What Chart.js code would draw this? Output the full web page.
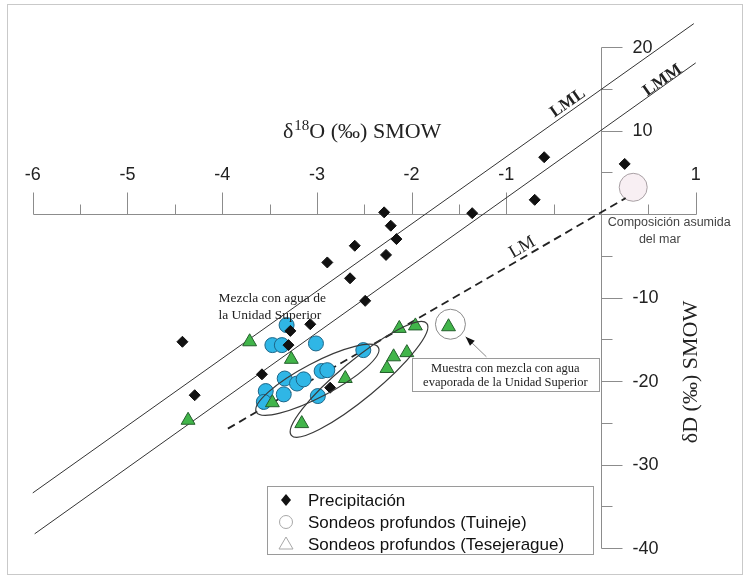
<!DOCTYPE html>
<html>
<head>
<meta charset="utf-8">
<script src="https://cdn.jsdelivr.net/npm/chart.js@4.4.1/dist/chart.umd.min.js"></script>
<style>
  body { margin: 0; background: #fff; }
</style>
</head>
<body>
<canvas id="myChart" width="748" height="578"></canvas>
<script>
// values: x = d18O, y = dD (per mil SMOW)
const precipO18 = [-0.60, 0.25, -0.70, -1.36, -2.29, -2.22, -2.16, -2.27, -2.60, -2.89, -2.65,
                   -4.42, -4.29, -3.58, -2.86, -2.49, -3.07, -3.28, -3.30];
const precipD   = [6.8, 6.0, 1.7, 0.1, 0.2, -1.4, -3.0, -4.9, -3.8, -5.8, -7.7,
                   -15.3, -21.7, -19.2, -20.8, -10.4, -13.2, -14.0, -15.7];

const tuinejeO18 = [-3.32, -3.47, -3.37, -3.01, -2.51, -3.34, -3.21, -3.14, -2.95, -2.89, -3.54, -3.35, -3.56, -2.99];
const tuinejeD   = [-13.3, -15.7, -15.7, -15.5, -16.3, -19.7, -20.3, -19.8, -18.8, -18.7, -21.2, -21.6, -22.5, -21.8];

const tesejO18 = [-3.71, -4.36, -3.27, -3.47, -3.16, -2.70, -2.13, -1.96, -2.19, -2.05, -2.26, -1.61];
const tesejD   = [-15.3, -24.7, -17.4, -22.6, -25.1, -19.7, -13.7, -13.4, -17.1, -16.6, -18.5, -13.5];

// meteoric water lines (end points)
const lmlO18 = [-6.0, 0.98];
const lmlD   = [-33.4, 22.8];
const lmmO18 = [-5.98, 1.0];
const lmmD   = [-38.3, 18.1];
const lmO18  = [-3.94, 0.26];
const lmD    = [-25.7, 1.9];

const xTicks = [-6, -5, -4, -3, -2, -1, 1];
const yTicks = [20, 10, -10, -20, -30, -40];
const legendLabels = ['Precipitación', 'Sondeos profundos (Tuineje)', 'Sondeos profundos (Tesejerague)'];

const ctx = document.getElementById('myChart').getContext('2d');
const pts = (xs, ys) => xs.map((x, i) => ({ x: x, y: ys[i] }));

const SANS = '"Liberation Sans", Arial, sans-serif';
const SERIF = '"Liberation Serif", "Times New Roman", serif';

// axes crossing at (0,0), drawn from the chart's scales
const crossAxes = {
  id: 'crossAxes',
  beforeDatasetsDraw(chart) {
    const c = chart.ctx, xs = chart.scales.x, ys = chart.scales.y;
    const r = v => Math.round(v) + 0.5;
    const y0 = r(ys.getPixelForValue(0)), x0 = r(xs.getPixelForValue(0));
    c.save();
    // frame
    c.strokeStyle = '#c9c9c9';
    c.strokeRect(7.5, 4.5, 735, 570);

    c.strokeStyle = '#8c8c8c';
    c.lineWidth = 1;
    c.beginPath();
    c.moveTo(r(xs.getPixelForValue(-6)), y0);
    c.lineTo(r(xs.getPixelForValue(1)), y0);
    for (let v = -6; v <= 1; v += 0.5) {
      const p = r(xs.getPixelForValue(v));
      c.moveTo(p, y0);
      c.lineTo(p, y0 - (Number.isInteger(v) ? 22 : 10));
    }
    c.moveTo(x0, r(ys.getPixelForValue(20)));
    c.lineTo(x0, r(ys.getPixelForValue(-40)));
    for (let v = -40; v <= 20; v += 5) {
      const p = r(ys.getPixelForValue(v));
      c.moveTo(x0, p);
      c.lineTo(x0 + (v % 10 === 0 ? 21 : 11), p);
    }
    c.stroke();

    // tick labels
    c.fillStyle = '#222';
    c.font = '18px ' + SANS;
    c.textAlign = 'center';
    c.textBaseline = 'middle';
    xTicks.forEach(v => c.fillText(String(v), xs.getPixelForValue(v), y0 - 39));
    c.textAlign = 'left';
    yTicks.forEach(v => c.fillText(String(v), x0 + 31, ys.getPixelForValue(v) + 1));

    // axis titles
    c.textBaseline = 'alphabetic';
    c.font = '22px ' + SERIF;
    let tx = 283;
    const ty = 138;
    c.fillText('δ', tx, ty); tx += c.measureText('δ').width + 1;
    c.font = '15px ' + SERIF;
    c.fillText('18', tx, ty - 8); tx += c.measureText('18').width;
    c.font = '22px ' + SERIF;
    c.fillText('O (‰) SMOW', tx, ty);

    c.translate(697, 372);
    c.rotate(-Math.PI / 2);
    c.textAlign = 'center';
    c.fillText('δD (‰) SMOW', 0, 0);
    c.restore();

    // sea composition circle
    c.save();
    c.beginPath();
    c.arc(xs.getPixelForValue(0.34), ys.getPixelForValue(3.2), 14, 0, Math.PI * 2);
    c.fillStyle = '#f8eff3';
    c.fill();
    c.strokeStyle = '#a8a0a4';
    c.stroke();
    c.restore();
  }
};

const notes = {
  id: 'notes',
  afterDatasetsDraw(chart) {
    const c = chart.ctx, xs = chart.scales.x, ys = chart.scales.y;
    const px = v => xs.getPixelForValue(v), py = v => ys.getPixelForValue(v);
    c.save();

    const ellipse = (x1, y1, x2, y2, b, color) => {
      const ax = px(x1), ay = py(y1), bx = px(x2), by = py(y2);
      const a = Math.hypot(bx - ax, by - ay) / 2;
      c.beginPath();
      c.ellipse((ax + bx) / 2, (ay + by) / 2, a, b, Math.atan2(by - ay, bx - ax), 0, Math.PI * 2);
      c.strokeStyle = color;
      c.lineWidth = 1.2;
      c.stroke();
    };
    ellipse(-3.64, -23.7, -2.35, -16.0, 17, '#3a3a3a');
    ellipse(-3.27, -26.5, -1.84, -13.1, 19, '#3a3a3a');

    // circle around the single sample
    c.beginPath();
    c.arc(px(-1.59), py(-13.2), 15, 0, Math.PI * 2);
    c.strokeStyle = '#8a8a8a';
    c.lineWidth = 1;
    c.stroke();

    // arrow from the box
    const ax1 = px(-1.21), ay1 = py(-17.1), ax2 = px(-1.43), ay2 = py(-14.7);
    c.beginPath();
    c.moveTo(ax1, ay1);
    c.lineTo(ax2, ay2);
    c.strokeStyle = '#888';
    c.stroke();
    const ang = Math.atan2(ay2 - ay1, ax2 - ax1);
    c.beginPath();
    c.moveTo(ax2, ay2);
    c.lineTo(ax2 - 10 * Math.cos(ang - 0.35), ay2 - 10 * Math.sin(ang - 0.35));
    c.lineTo(ax2 - 10 * Math.cos(ang + 0.35), ay2 - 10 * Math.sin(ang + 0.35));
    c.closePath();
    c.fillStyle = '#111';
    c.fill();

    // note box
    const bx1 = px(-2.0), by1 = py(-17.25), bx2 = px(-0.03), by2 = py(-21.2);
    c.fillStyle = '#fff';
    c.fillRect(bx1, by1, bx2 - bx1, by2 - by1);
    c.strokeStyle = '#9a9a9a';
    c.strokeRect(Math.round(bx1) + 0.5, Math.round(by1) + 0.5, Math.round(bx2 - bx1), Math.round(by2 - by1));
    c.fillStyle = '#222';
    c.font = '12.5px ' + SERIF;
    c.textAlign = 'center';
    c.textBaseline = 'middle';
    c.fillText('Muestra con mezcla con agua', px(-1.01), py(-18.56));
    c.fillText('evaporada de la Unidad Superior', px(-1.01), py(-20.24));

    c.font = '13.5px ' + SERIF;
    c.textAlign = 'left';
    c.fillText('Mezcla con agua de', px(-4.04), py(-10.06));
    c.fillText('la Unidad Superior', px(-4.04), py(-12.1));

    c.fillStyle = '#444';
    c.font = '12.5px ' + SANS;
    c.textAlign = 'center';
    c.fillText('Composición asumida', px(0.72), py(-1.08));
    c.fillText('del mar', px(0.62), py(-3.0));

    // line labels
    const rotText = (txt, x, y, deg, font) => {
      c.save();
      c.translate(px(x), py(y));
      c.rotate(deg * Math.PI / 180);
      c.font = font;
      c.fillStyle = '#222';
      c.textAlign = 'center';
      c.textBaseline = 'middle';
      c.fillText(txt, 0, 0);
      c.restore();
    };
    rotText('LML', -0.35, 13.3, -35, 'bold 17px ' + SERIF);
    rotText('LMM', 0.65, 16.0, -35, 'bold 17px ' + SERIF);
    rotText('LM', -0.83, -4.0, -30, '18px ' + SERIF);

    c.restore();
  },
  afterDraw(chart) {
    const c = chart.ctx;
    c.save();
    c.fillStyle = '#fff';
    c.fillRect(267, 486, 326, 68);
    c.strokeStyle = '#9a9a9a';
    c.lineWidth = 1;
    c.strokeRect(267.5, 486.5, 326, 68);
    const mx = 286, rows = [500, 522, 544];
    // diamond
    c.beginPath();
    c.moveTo(mx, rows[0] - 6); c.lineTo(mx + 5, rows[0]); c.lineTo(mx, rows[0] + 6); c.lineTo(mx - 5, rows[0]);
    c.closePath();
    c.fillStyle = '#111';
    c.fill();
    // hollow circle
    c.strokeStyle = '#a8a8a8';
    c.beginPath();
    c.arc(mx, rows[1], 6.5, 0, Math.PI * 2);
    c.stroke();
    // hollow triangle
    c.beginPath();
    c.moveTo(mx, rows[2] - 7); c.lineTo(mx + 7, rows[2] + 5); c.lineTo(mx - 7, rows[2] + 5);
    c.closePath();
    c.stroke();
    c.fillStyle = '#111';
    c.font = '17px ' + SANS;
    c.textBaseline = 'middle';
    legendLabels.forEach((t, i) => c.fillText(t, 308, rows[i] + 1));
    c.restore();
  }
};

new Chart(ctx, {
  type: 'scatter',
  data: {
    datasets: [
      { label: 'LML', type: 'line', data: pts(lmlO18, lmlD), borderColor: '#333', borderWidth: 1, pointRadius: 0, order: 5 },
      { label: 'LMM', type: 'line', data: pts(lmmO18, lmmD), borderColor: '#333', borderWidth: 1, pointRadius: 0, order: 5 },
      { label: 'LM', type: 'line', data: pts(lmO18, lmD), borderColor: '#222', borderWidth: 1.8, borderDash: [8, 5], pointRadius: 0, order: 5 },
      {
        label: legendLabels[1],
        data: pts(tuinejeO18, tuinejeD),
        pointStyle: 'circle',
        pointRadius: 7.5,
        backgroundColor: '#2fb6e6',
        borderColor: '#1d6688',
        borderWidth: 1,
        order: 3
      },
      {
        label: legendLabels[2],
        data: pts(tesejO18, tesejD),
        pointStyle: 'triangle',
        pointRadius: 8,
        backgroundColor: '#41b54a',
        borderColor: '#245f2c',
        borderWidth: 1,
        order: 2
      },
      {
        label: legendLabels[0],
        data: pts(precipO18, precipD),
        pointStyle: 'rectRot',
        pointRadius: 5.5,
        backgroundColor: '#111',
        borderColor: '#111',
        borderWidth: 1,
        order: 1
      }
    ]
  },
  options: {
    responsive: false,
    animation: false,
    layout: { padding: 0, autoPadding: false },
    plugins: { legend: { display: false }, tooltip: { enabled: false } },
    scales: {
      x: { type: 'linear', min: -6.346, max: 1.552, display: false },
      y: { type: 'linear', min: -43.59, max: 25.63, display: false }
    }
  },
  plugins: [crossAxes, notes]
});
</script>
</body>
</html>
